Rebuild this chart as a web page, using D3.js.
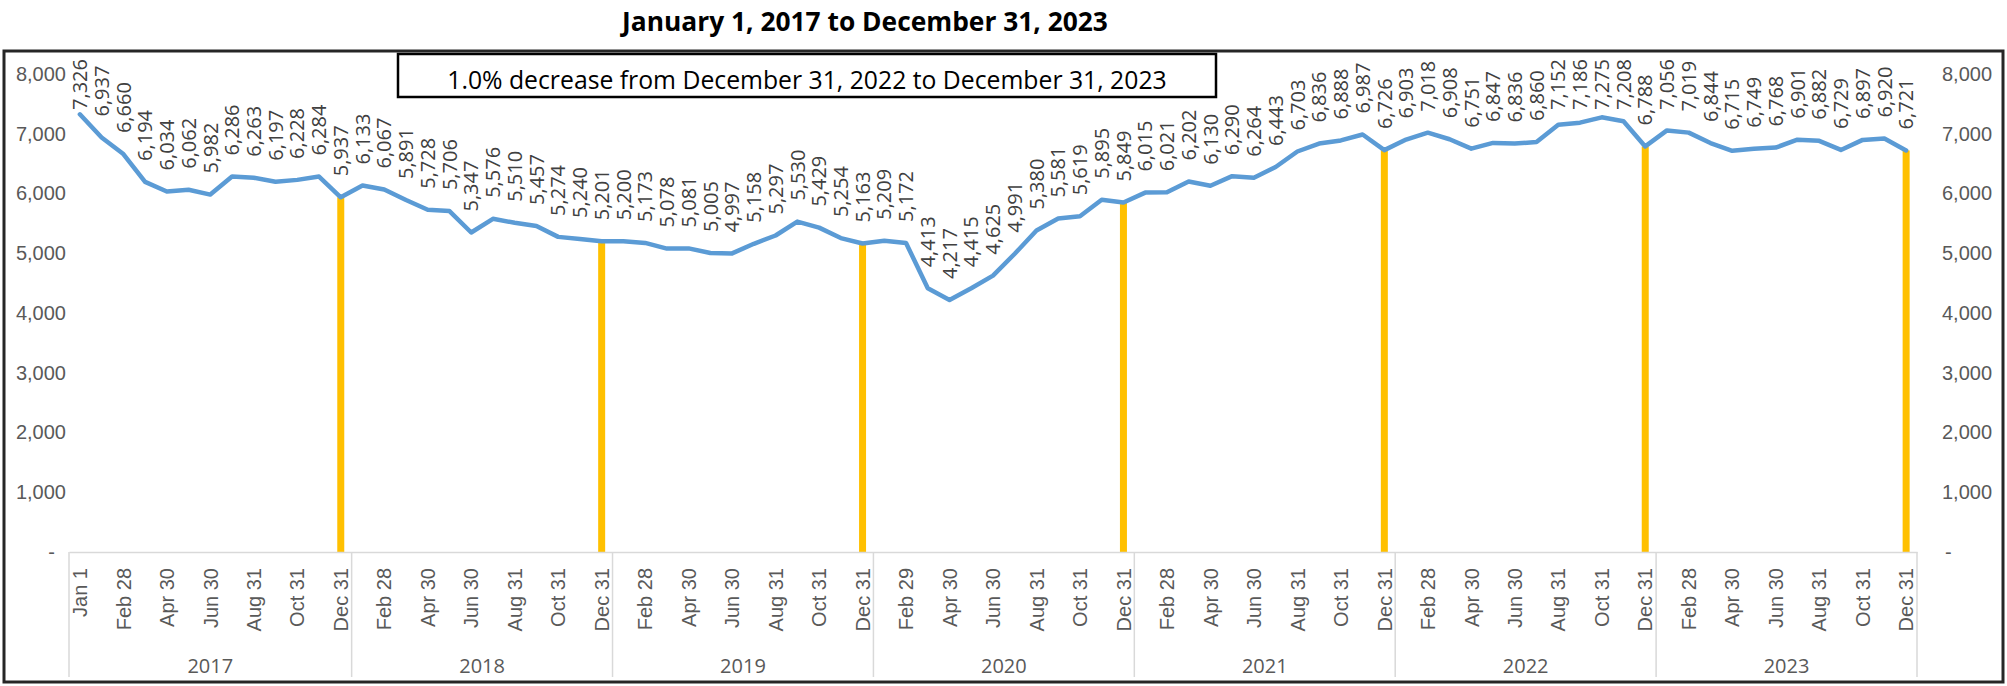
<!DOCTYPE html>
<html lang="en">
<head>
<meta charset="utf-8">
<style>
  body { margin: 0; background: white; }
  svg { font-family: 'Open Sans', sans-serif; background: white; }
  .axis text { fill: #595959; font-size: 20px; }
  .axis line { stroke: none; }
  .axis.x path { stroke: #d9d9d9; stroke-width: 1.5px; }
  .axis.y path { stroke: none; }
  .data-label { fill: #404040; font-size: 20px; }
  .year-label { fill: #595959; font-size: 20px; }
  .sep { stroke: #d9d9d9; stroke-width: 1.5px; }
  .series { fill: none; stroke: #5b9bd5; stroke-width: 4.5px; stroke-linejoin: round; stroke-linecap: round; }
  .marker-bar { fill: #ffc000; }
</style>
</head>
<body>
<svg width="2007" height="686"></svg>
<script src="https://d3js.org/d3.v7.min.js"></script>
<script>
  const years = [2017, 2018, 2019, 2020, 2021, 2022, 2023]
  const monthEnds = ["Jan 31", "Feb 28", "Mar 31", "Apr 30", "May 31", "Jun 30",
                     "Jul 31", "Aug 31", "Sep 30", "Oct 31", "Nov 30", "Dec 31"]
  const monthEndsLeap = ["Jan 31", "Feb 29", "Mar 31", "Apr 30", "May 31", "Jun 30",
                         "Jul 31", "Aug 31", "Sep 30", "Oct 31", "Nov 30", "Dec 31"]

  // 2017 also starts with Jan 1
  const values2017 = [7326, 6937, 6660, 6194, 6034, 6062, 5982, 6286, 6263, 6197, 6228, 6284, 5937]
  const values2018 = [6133, 6067, 5891, 5728, 5706, 5347, 5576, 5510, 5457, 5274, 5240, 5201]
  const values2019 = [5200, 5173, 5078, 5081, 5005, 4997, 5158, 5297, 5530, 5429, 5254, 5163]
  const values2020 = [5209, 5172, 4413, 4217, 4415, 4625, 4991, 5380, 5581, 5619, 5895, 5849]
  const values2021 = [6015, 6021, 6202, 6130, 6290, 6264, 6443, 6703, 6836, 6888, 6987, 6726]
  const values2022 = [6903, 7018, 6908, 6751, 6847, 6836, 6860, 7152, 7186, 7275, 7208, 6788]
  const values2023 = [7056, 7019, 6844, 6715, 6749, 6768, 6901, 6882, 6729, 6897, 6920, 6721]

  const yTicks = [0, 1000, 2000, 3000, 4000, 5000, 6000, 7000, 8000]
  const titleText = "January 1, 2017 to December 31, 2023"
  const noteText = "1.0% decrease from December 31, 2022 to December 31, 2023"

  const seriesByYear = [values2017, values2018, values2019, values2020, values2021, values2022, values2023]
  const points = []
  years.forEach(function (yr, k) {
    let labels = yr === 2020 ? monthEndsLeap : monthEnds
    if (k === 0) labels = ["Jan 1"].concat(monthEnds)
    seriesByYear[k].forEach(function (v, j) {
      points.push({ year: yr, label: labels[j], value: v })
    })
  })
  points.forEach(function (d, i) { d.i = i })

  const plot = { left: 69, right: 1917, top: 74, bottom: 552 }
  const labelGap = 21, labelTopLimit = 59

  const x = d3.scaleBand().domain(d3.range(points.length)).range([plot.left, plot.right])
  const cx = function (i) { return x(i) + x.bandwidth() / 2 }
  const y = d3.scaleLinear().domain([0, 8000]).range([plot.bottom, plot.top])

  const svg = d3.select("svg")
  const fmt = d3.format(",")

  function fitText(sel, width) {
    const w = sel.node().getComputedTextLength()
    const fs = parseFloat(sel.attr("font-size"))
    sel.attr("font-size", fs * width / w)
  }

  // outer frame
  svg.append("rect")
    .attr("x", 4).attr("y", 51).attr("width", 1999).attr("height", 631)
    .attr("fill", "none").attr("stroke", "#262626").attr("stroke-width", 3)

  // title
  const title = svg.append("text")
    .attr("class", "title")
    .attr("x", 865).attr("y", 31)
    .attr("text-anchor", "middle")
    .attr("font-size", 24).attr("font-weight", "bold")
    .text(titleText)
  fitText(title, 486)

  // y axes
  const yAxisL = d3.axisLeft(y).tickValues(yTicks).tickSize(0).tickPadding(3)
    .tickFormat(function (d) { return d === 0 ? "-" : fmt(d) })
  const yAxisR = d3.axisRight(y).tickValues(yTicks).tickSize(0).tickPadding(25)
    .tickFormat(function (d) { return d === 0 ? "-" : fmt(d) })

  const gl = svg.append("g").attr("class", "axis y")
    .attr("transform", "translate(" + plot.left + ",0)").call(yAxisL)
  gl.selectAll(".tick").filter(function (d) { return d === 0 })
    .select("text").attr("dx", -11)
  svg.append("g").attr("class", "axis y")
    .attr("transform", "translate(" + plot.right + ",0)").call(yAxisR)
    .selectAll(".tick").filter(function (d) { return d === 0 })
    .select("text").attr("dx", 3)

  // yellow year-end bars
  svg.append("g").selectAll("rect")
    .data(points.filter(function (d) { return d.label === "Dec 31" }))
    .join("rect")
    .attr("class", "marker-bar")
    .attr("x", function (d) { return cx(d.i) - 3.5 })
    .attr("width", 7)
    .attr("y", function (d) { return y(d.value) })
    .attr("height", function (d) { return y(0) - y(d.value) })

  // x axis (month labels, every other category)
  const xAxis = d3.axisBottom(x)
    .tickValues(points.filter(function (d) { return d.i % 2 === 0 }).map(function (d) { return d.i }))
    .tickFormat(function (i) { return points[i].label })
    .tickSize(0).tickSizeOuter(0)
  svg.append("g").attr("class", "axis x")
    .attr("transform", "translate(0," + plot.bottom + ")")
    .call(xAxis)
    .selectAll("text")
    .attr("transform", "rotate(-90)")
    .attr("text-anchor", "end")
    .attr("x", -16).attr("y", 0)
    .attr("dy", "0.36em")

  // year groups
  const groups = years.map(function (yr) {
    const idx = points.filter(function (d) { return d.year === yr }).map(function (d) { return d.i })
    return { year: yr, x0: x(d3.min(idx)), x1: x(d3.max(idx)) + x.bandwidth() }
  })
  const edges = groups.map(function (g) { return g.x0 }).concat([plot.right])
  svg.append("g").selectAll("line")
    .data(edges)
    .join("line")
    .attr("class", "sep")
    .attr("x1", function (d) { return d }).attr("x2", function (d) { return d })
    .attr("y1", plot.bottom).attr("y2", 677)
  svg.append("g").selectAll("text")
    .data(groups)
    .join("text")
    .attr("class", "year-label")
    .attr("x", function (g) { return (g.x0 + g.x1) / 2 })
    .attr("y", 673)
    .attr("text-anchor", "middle")
    .text(function (g) { return g.year })

  // line
  const line = d3.line()
    .x(function (d) { return cx(d.i) })
    .y(function (d) { return y(d.value) })
  svg.append("path").datum(points).attr("class", "series").attr("d", line)

  // data labels, kept inside the chart area like Excel does
  svg.append("g").selectAll("text")
    .data(points)
    .join("text")
    .attr("class", "data-label")
    .attr("dy", "0.36em")
    .text(function (d) { return fmt(d.value) })
    .attr("transform", function (d) {
      const len = this.getComputedTextLength()
      let base = y(d.value) - labelGap
      if (base - len < labelTopLimit) base = labelTopLimit + len
      return "translate(" + cx(d.i) + "," + base + ") rotate(-90)"
    })

  // annotation box
  svg.append("rect")
    .attr("x", 398).attr("y", 54).attr("width", 818).attr("height", 43)
    .attr("fill", "white").attr("stroke", "#000").attr("stroke-width", 2.5)
  const note = svg.append("text")
    .attr("x", 807).attr("y", 89)
    .attr("text-anchor", "middle")
    .attr("font-size", 22).attr("fill", "#000")
    .text(noteText)
  fitText(note, 720)
</script>
</body>
</html>
